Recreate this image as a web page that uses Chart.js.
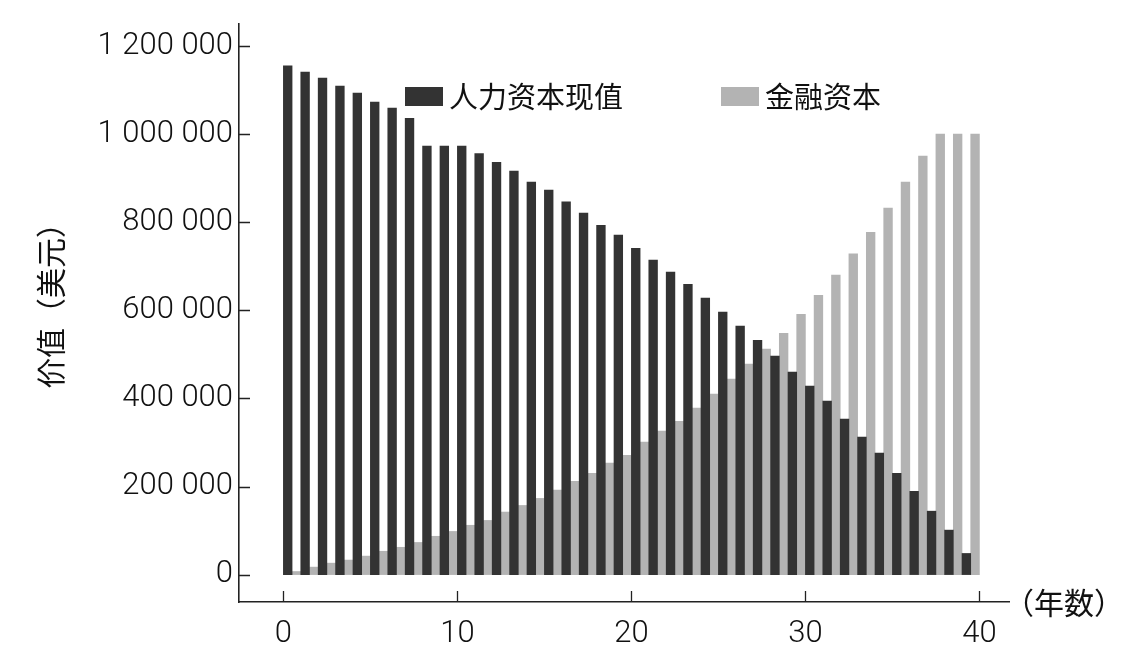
<!DOCTYPE html>
<html>
<head>
<meta charset="utf-8">
<script src="https://cdn.jsdelivr.net/npm/chart.js@4.4.1/dist/chart.umd.min.js"></script>
<style>
  html, body { margin: 0; padding: 0; background: #fff; }
  #wrap { width: 1136px; height: 660px; position: relative; }
</style>
</head>
<body>
<div id="wrap"><canvas id="c"></canvas></div>
<script>
// ---- data ----
const years = [0,1,2,3,4,5,6,7,8,9,10,11,12,13,14,15,16,17,18,19,20,21,22,23,24,25,26,27,28,29,30,31,32,33,34,35,36,37,38,39];
const humanCapital = [1155000,1141000,1127000,1109000,1093000,1073000,1059000,1036000,973000,973000,973000,956000,936000,916000,891000,873000,846000,821000,793000,771000,741000,714000,687000,659000,628000,596000,564000,532000,496000,460000,428000,394000,353000,312000,276000,230000,189000,144000,101000,48000];
const financialCapital = [7000,17000,26000,33000,42000,53000,62000,73000,87000,98000,112000,123000,142000,157000,173000,192000,212000,230000,253000,271000,301000,326000,348000,378000,410000,444000,478000,512000,548000,591000,634000,680000,728000,777000,832000,891000,950000,1000000,1000000,1000000];
const seriesNames = ['人力资本现值', '金融资本'];
const yTicks = [0,200000,400000,600000,800000,1000000,1200000];
const xTicks = [0,10,20,30,40];
const yTitle = '价值（美元）';
const xTitle = '（年数）';

const DARK = '#333333';
const LIGHT = '#b3b3b3';
const NUM_FONT = "Roboto, 'Liberation Sans', sans-serif";
const CJK_FONT = "'Noto Sans CJK SC', sans-serif";
const CJK_TITLE_FONT = "'Noto Sans CJK KR', 'Noto Sans CJK SC', sans-serif";

function fmt(v) {
  return String(v).replace(/\B(?=(\d{3})+(?!\d))/g, ' ');
}

const extras = {
  id: 'extras',
  afterDraw(chart) {
    const ctx = chart.ctx;
    const ca = chart.chartArea;
    const xs = chart.scales.x, ys = chart.scales.y;
    ctx.save();
    // inward tick marks
    ctx.strokeStyle = '#222';
    ctx.lineWidth = 1.3;
    ctx.beginPath();
    yTicks.forEach(v => {
      const py = Math.round(ys.getPixelForValue(v)) + 0.5;
      ctx.moveTo(ca.left, py);
      ctx.lineTo(ca.left + 11, py);
    });
    xTicks.forEach(v => {
      const px = Math.round(xs.getPixelForValue(v)) + 0.5;
      ctx.moveTo(px, ca.bottom);
      ctx.lineTo(px, ca.bottom - 11);
    });
    ctx.stroke();
    // legend (inside plot area)
    ctx.font = "29px " + CJK_FONT;
    ctx.textBaseline = 'middle';
    ctx.textAlign = 'left';
    const items = [{x: 405}, {x: 721}];
    chart.data.datasets.forEach((ds, i) => {
      const bx = items[i].x;
      ctx.fillStyle = ds.backgroundColor;
      ctx.fillRect(bx, 87, 38, 19);
      ctx.fillStyle = '#111';
      ctx.fillText(ds.label, bx + 44, 97);
    });
    // x axis title at the right end of the axis
    ctx.fillStyle = '#111';
    ctx.font = "30px " + CJK_TITLE_FONT;
    ctx.fillText(xTitle, 1004, ca.bottom + 1);
    // y axis title, rotated
    ctx.translate(51, 298);
    ctx.rotate(-Math.PI / 2);
    ctx.textAlign = 'center';
    ctx.fillText(yTitle, 0, 0);
    ctx.restore();
  }
};

new Chart(document.getElementById('c'), {
  type: 'bar',
  data: {
    datasets: [
      {
        label: seriesNames[0],
        data: years.map((yr, i) => ({x: yr + 0.5, y: humanCapital[i]})),
        backgroundColor: DARK,
        borderWidth: 0,
        categoryPercentage: 1,
        barPercentage: 1
      },
      {
        label: seriesNames[1],
        data: years.map((yr, i) => ({x: yr + 0.5, y: financialCapital[i]})),
        backgroundColor: LIGHT,
        borderWidth: 0,
        categoryPercentage: 1,
        barPercentage: 1
      }
    ]
  },
  options: {
    responsive: true,
    maintainAspectRatio: false,
    animation: false,
    layout: { padding: { left: 0, top: 24, right: 127, bottom: 0 } },
    plugins: {
      legend: { display: false },
      tooltip: { enabled: false },
      title: { display: false }
    },
    scales: {
      x: {
        type: 'linear',
        offset: false,
        min: -2.55,
        max: 41.7,
        afterBuildTicks: (s) => { s.ticks = xTicks.map(v => ({value: v})); },
        afterFit: (s) => { s.height = 58; s.paddingLeft = 0; s.paddingRight = 0; },
        grid: { display: false, drawTicks: false },
        border: { display: true, color: '#222', width: 1.6 },
        ticks: {
          autoSkip: false,
          maxRotation: 0,
          padding: 14,
          color: '#111',
          font: { family: NUM_FONT, size: 31, weight: '300' },
          callback: (v) => String(v)
        }
      },
      y: {
        type: 'linear',
        min: -62200,
        max: 1250000,
        afterBuildTicks: (s) => { s.ticks = yTicks.map(v => ({value: v})); },
        afterFit: (s) => { s.width = 239; s.paddingTop = 0; s.paddingBottom = 0; },
        grid: { display: false, drawTicks: false },
        border: { display: true, color: '#222', width: 1.6 },
        ticks: {
          autoSkip: false,
          padding: 6,
          color: '#111',
          font: { family: NUM_FONT, size: 31, weight: '300' },
          callback: (v) => fmt(v)
        }
      }
    }
  },
  plugins: [extras]
});
</script>
</body>
</html>
